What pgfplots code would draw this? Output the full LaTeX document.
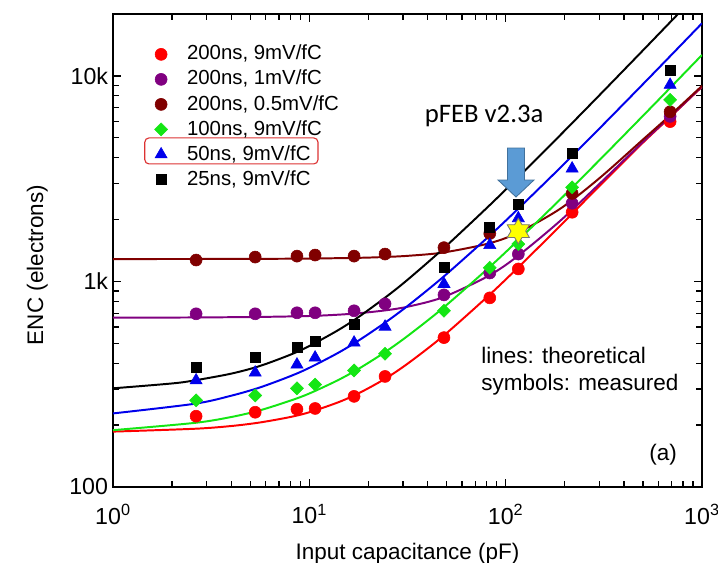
\documentclass[border=0pt]{standalone}
\usepackage{pgfplots}
\pgfplotsset{compat=1.18}
\usepackage{fontspec}
\setmainfont{Liberation Sans}
\newfontfamily\calibri{Carlito}

\definecolor{cred}{RGB}{255,0,0}
\definecolor{cpurple}{RGB}{128,0,128}
\definecolor{cdarkred}{RGB}{128,0,0}
\definecolor{cgreen}{RGB}{20,230,20}
\definecolor{cblue}{RGB}{0,0,235}
\definecolor{arrowfill}{RGB}{91,155,213}
\definecolor{arrowdraw}{RGB}{65,113,156}
\definecolor{boxred}{RGB}{220,50,50}
\definecolor{staryellow}{RGB}{255,255,0}
\definecolor{staredge}{RGB}{120,120,110}

% six-pointed star for the pFEB point
\pgfdeclareplotmark{hexstar}{%
  \pgfpathmoveto{\pgfpointpolar{90}{\pgfplotmarksize}}%
  \pgfpathlineto{\pgfpointpolar{120}{0.577\pgfplotmarksize}}%
  \pgfpathlineto{\pgfpointpolar{150}{\pgfplotmarksize}}%
  \pgfpathlineto{\pgfpointpolar{180}{0.577\pgfplotmarksize}}%
  \pgfpathlineto{\pgfpointpolar{210}{\pgfplotmarksize}}%
  \pgfpathlineto{\pgfpointpolar{240}{0.577\pgfplotmarksize}}%
  \pgfpathlineto{\pgfpointpolar{270}{\pgfplotmarksize}}%
  \pgfpathlineto{\pgfpointpolar{300}{0.577\pgfplotmarksize}}%
  \pgfpathlineto{\pgfpointpolar{330}{\pgfplotmarksize}}%
  \pgfpathlineto{\pgfpointpolar{0}{0.577\pgfplotmarksize}}%
  \pgfpathlineto{\pgfpointpolar{30}{\pgfplotmarksize}}%
  \pgfpathlineto{\pgfpointpolar{60}{0.577\pgfplotmarksize}}%
  \pgfpathclose
  \pgfusepathqfillstroke
}

\begin{document}
\begin{tikzpicture}
\useasboundingbox (-2.825cm,-1.875cm) rectangle (15.125cm,12.175cm);
\begin{axis}[
    at={(0,0)}, anchor=south west,
    width=14.725cm, height=11.825cm, scale only axis,
    xmode=log, ymode=log,
    xmin=1, xmax=1000, ymin=100, ymax=20000,
    xtick={1,10,100,1000},
    xticklabels={10\textsuperscript{0},10\textsuperscript{1},10\textsuperscript{2},10\textsuperscript{3}},
    ytick={100,1000,10000},
    yticklabels={100,1k,10k},
    tick label style={font=\fontsize{16.5}{18}\selectfont},
    xticklabel style={yshift=-0.3cm},
    xlabel={Input capacitance (pF)},
    ylabel={ENC (electrons)},
    label style={font=\fontsize{16}{18}\selectfont},
    xlabel style={at={(axis description cs:0.5,-0.1543)}, anchor=base},
    ylabel style={at={(axis description cs:-0.1188,0.469)}, anchor=base},
    axis line style={line width=1.3pt},
    major tick length=0.2cm, minor tick length=0.14cm,
    tick style={line width=1pt, black},
    legend cell align=left,
    legend style={at={(0.063,0.945)}, anchor=north west, draw=none, fill=none,
        font=\fontsize{14.5}{16}\selectfont, row sep=1.8pt,
        nodes={inner sep=1pt, text height=11pt, text depth=3pt},
        /tikz/every odd column/.append style={column sep=0.45cm}},
]
% theoretical curves
\addplot[cred, line width=1.4pt, smooth, forget plot] coordinates {
 (1,186) (2.6,192) (4,198) (5.6,206) (8,219) (10,231) (14,258) (18,287)
 (24.3,336) (32,401) (48,542) (81,845) (114,1153) (189,1860) (300,2911)
 (500,4730) (688,6300) (1000,8850)};
\addplot[cpurple, line width=1.4pt, smooth, forget plot] coordinates {
 (1,666) (2.6,668) (5.6,672) (10,679) (14,689) (18,701) (24.3,723)
 (32,755) (48,838) (81,1059) (114,1318) (189,1967) (300,2980)
 (500,4773) (688,6332) (1000,8873)};
\addplot[cdarkred, line width=1.4pt, smooth, forget plot] coordinates {
 (1,1285) (2.6,1286) (5.6,1288) (10,1292) (18,1303) (24.3,1315) (32,1333)
 (48,1382) (81,1526) (114,1716) (189,2253) (300,3176) (500,4898)
 (688,6427) (1000,8941)};
\addplot[cgreen, line width=1.4pt, smooth, forget plot] coordinates {
 (1,189) (2.6,205) (4,219) (5.6,236) (8,263) (10,285) (14,331) (18,378)
 (24.3,453) (32,547) (48,743) (81,1153) (114,1564) (189,2500) (300,3887)
 (500,6388) (688,8738) (1000,12640)};
\addplot[cblue, line width=1.4pt, smooth, forget plot] coordinates {
 (1,228) (2.6,254) (4,278) (5.6,305) (8,346) (10,380) (14,449) (18,519)
 (24.3,630) (32,766) (48,1050) (81,1637) (114,2225) (189,3561) (300,5540)
 (500,9107) (688,12459) (1000,18025)};
\addplot[black, line width=1.4pt, smooth, forget plot] coordinates {
 (1,302) (2,319) (2.6,330) (4,356) (5.6,388) (8,440) (10,485) (14,579)
 (18,676) (25,851) (32,1028) (48,1441) (80,2274) (114,3163) (189,5130)
 (300,8044) (500,13296) (773,20466) (1000,26429)};

% measured points
\addplot[only marks, mark=*, mark size=0.15cm, color=cred] coordinates {
 (2.65,221) (5.3,231) (8.65,239) (10.7,241) (16.9,276) (24.3,345)
 (48.5,533) (83,832) (116,1150) (218,2170) (688,5990)};
\addlegendentry{200ns, 9mV/fC}
\addplot[only marks, mark=*, mark size=0.15cm, color=cpurple] coordinates {
 (2.65,696) (5.3,696) (8.65,704) (10.7,704) (16.9,720) (24.3,778)
 (48.5,860) (83,1099) (116,1359) (218,2400) (688,6350)};
\addlegendentry{200ns, 1mV/fC}
\addplot[only marks, mark=*, mark size=0.15cm, color=cdarkred] coordinates {
 (2.65,1271) (5.3,1314) (8.65,1328) (10.7,1344) (16.9,1328) (24.3,1359)
 (48.5,1460) (83,1710) (116,1760) (218,2680) (688,6690)};
\addlegendentry{200ns, 0.5mV/fC}
\addplot[only marks, mark=square*, mark size=0.115cm, mark options={rotate=45}, color=cgreen] coordinates {
 (2.65,264) (5.3,279) (8.65,302) (10.7,315) (16.9,369) (24.3,445)
 (48.5,720) (83,1165) (116,1520) (218,2870) (688,7650)};
\addlegendentry{100ns, 9mV/fC}
\addplot[only marks, mark=triangle*, mark size=0.175cm, color=cblue] coordinates {
 (2.65,330) (5.3,360) (8.65,394) (10.7,426) (16.9,504) (24.3,602)
 (48.5,972) (83,1503) (116,2030) (218,3540) (688,9040)};
\addlegendentry{50ns, 9mV/fC}
\addplot[only marks, mark=square*, mark size=0.125cm, color=black] coordinates {
 (2.65,381) (5.3,426) (8.65,476) (10.7,509) (16.9,622) (48.5,1176)
 (83,1836) (116,2370) (218,4190) (688,10690)};
\addlegendentry{25ns, 9mV/fC}

% pFEB v2.3a
\addplot[only marks, mark=hexstar, mark size=0.32cm, forget plot,
    mark options={fill=staryellow, draw=staredge, line width=0.6pt}] coordinates {(116,1757)};

\draw[boxred, line width=0.8pt, rounded corners=3pt]
    (rel axis cs:0.054,0.683) rectangle (rel axis cs:0.348,0.738);
\node[font=\calibri\fontsize{19}{22}\selectfont, anchor=base, inner sep=0pt]
    at (rel axis cs:0.630,0.7696) {pFEB v2.3a};
\coordinate (tip) at (rel axis cs:0.6842,0.6131);
\node[anchor=base west, inner sep=0pt, font=\fontsize{16}{18}\selectfont]
    at (rel axis cs:0.6248,0.262) {lines: theoretical};
\node[anchor=base west, inner sep=0pt, font=\fontsize{16}{18}\selectfont]
    at (rel axis cs:0.6248,0.205) {symbols: measured};
\node[anchor=base, inner sep=0pt, font=\fontsize{16}{18}\selectfont]
    at (rel axis cs:0.934,0.057) {(a)};
\end{axis}
\filldraw[fill=arrowfill, draw=arrowdraw, line width=0.6pt]
    (tip) -- ++(-0.45cm,0.425cm) -- ++(0.2375cm,0) -- ++(0,0.8cm)
    -- ++(0.425cm,0) -- ++(0,-0.8cm) -- ++(0.2375cm,0) -- cycle;
\end{tikzpicture}
\end{document}
